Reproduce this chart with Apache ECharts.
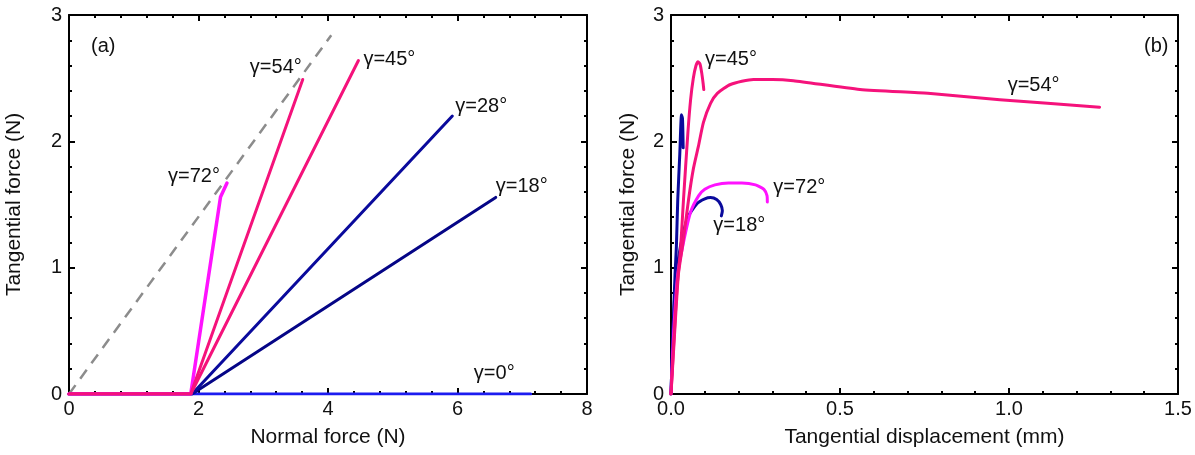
<!DOCTYPE html>
<html>
<head>
<meta charset="utf-8">
<script src="https://cdn.jsdelivr.net/npm/echarts@6/dist/echarts.min.js"></script>
<style>
html,body{margin:0;padding:0;background:#fff;}
#c{width:1195px;height:455px;}
</style>
</head>
<body>
<div id="c"></div>
<script>
// ---- Panel (a): tangential vs normal force ----
const frictionLimit = [[0, 0], [4.05, 2.84]];
const nfG0  = [[0, 0], [1.88, 0], [7.13, 0]];
const nfG18 = [[0, 0], [1.90, 0], [6.59, 1.556]];
const nfG28 = [[0, 0], [1.90, 0], [5.92, 2.20]];
const nfG72 = [[0, 0], [1.88, 0], [2.34, 1.56], [2.37, 1.57], [2.44, 1.67]];
const nfG54 = [[0, 0], [1.88, 0], [3.61, 2.49]];
const nfG45 = [[0, 0], [1.88, 0], [4.47, 2.64]];

// ---- Panel (b): tangential force vs tangential displacement ----
const tdG28 = [[0, 0], [0.006, 0.5], [0.012, 0.95], [0.016, 1.17], [0.020, 1.54], [0.026, 1.9], [0.031, 2.21], [0.034, 2.18], [0.036, 1.95]];
const tdG18 = [[0, 0], [0.006, 0.5], [0.014, 0.9], [0.028, 1.17], [0.050, 1.40], [0.078, 1.51], [0.100, 1.545], [0.117, 1.555], [0.135, 1.54], [0.147, 1.50], [0.152, 1.45], [0.149, 1.41]];
const tdG72 = [[0, 0], [0.008, 0.5], [0.020, 0.95], [0.037, 1.20], [0.058, 1.44], [0.082, 1.57], [0.100, 1.62], [0.130, 1.655], [0.170, 1.67], [0.210, 1.67], [0.250, 1.655], [0.275, 1.62], [0.284, 1.57], [0.285, 1.52]];
const tdG45 = [[0, 0], [0.008, 0.4], [0.018, 0.85], [0.028, 1.14], [0.037, 1.54], [0.050, 2.07], [0.058, 2.33], [0.066, 2.50], [0.074, 2.60], [0.080, 2.63], [0.086, 2.61], [0.091, 2.54], [0.095, 2.46], [0.097, 2.41]];
const tdG54 = [[0, 0], [0.010, 0.45], [0.022, 0.95], [0.034, 1.17], [0.052, 1.54], [0.066, 1.78], [0.081, 1.96], [0.096, 2.15], [0.117, 2.30], [0.137, 2.38], [0.176, 2.45], [0.244, 2.49], [0.300, 2.49], [0.362, 2.48], [0.559, 2.41], [0.760, 2.38], [0.973, 2.33], [1.268, 2.27]];

const xTicksA = [0, 2, 4, 6, 8];
const xTicksB = [0.0, 0.5, 1.0, 1.5];
const yTicks = [0, 1, 2, 3];

const PINK = '#f5127b', MAGENTA = '#ff12ff', NAVY = '#0a0a9c', NAVY2 = '#050586', BLUE = '#1c1cf0';
const FONT = 'Liberation Sans, Arial, sans-serif';
const TXT = '#111';
const LBL = 20;

// A text tag anchored on one point of a series (via markPoint, using the data point itself)
function tag(arr, idx, text, pos, distance, offset) {
  return {
    silent: true, animation: false,
    symbol: 'circle', symbolSize: 0, itemStyle: { color: 'rgba(0,0,0,0)' },
    label: { show: true, formatter: text, position: pos, distance: distance, offset: offset,
             fontSize: LBL, color: TXT, fontFamily: FONT },
    data: [{ coord: arr[idx < 0 ? arr.length + idx : idx] }]
  };
}

function lineSeries(xi, yi, data, color, width, z, smooth, mp) {
  const s = {
    type: 'line', xAxisIndex: xi, yAxisIndex: yi, data: data,
    showSymbol: false, symbol: 'none', smooth: smooth || false, z: z,
    lineStyle: { color: color, width: width, cap: 'round', join: 'round' },
    itemStyle: { color: color },
    emphasis: { disabled: true }, animation: false
  };
  if (mp) s.markPoint = mp;
  return s;
}

const AX = { color: '#000', width: 2 };
function mainX(grid, min, max, interval, name, fmt) {
  return {
    type: 'value', gridIndex: grid, min: min, max: max, interval: interval, position: 'bottom',
    name: name, nameLocation: 'middle', nameGap: 33,
    nameTextStyle: { fontSize: 21, color: TXT, fontFamily: FONT },
    axisLine: { show: true, onZero: false, lineStyle: AX },
    axisTick: { show: true, inside: true, length: 6, lineStyle: AX },
    minorTick: { show: true, splitNumber: 5, length: 3, lineStyle: AX },
    axisLabel: { fontSize: 20, color: TXT, fontFamily: FONT, margin: 5, formatter: fmt },
    splitLine: { show: false }
  };
}
function frameX(grid, min, max, interval) {
  return {
    type: 'value', gridIndex: grid, min: min, max: max, interval: interval, position: 'top',
    axisLine: { show: true, onZero: false, lineStyle: AX },
    axisTick: { show: true, inside: true, length: 6, lineStyle: AX },
    minorTick: { show: true, splitNumber: 5, length: 3, lineStyle: AX },
    axisLabel: { show: false }, splitLine: { show: false }
  };
}
function mainY(grid, gap) {
  return {
    type: 'value', gridIndex: grid, min: yTicks[0], max: yTicks[yTicks.length - 1], interval: 1, position: 'left',
    name: 'Tangential force (N)', nameLocation: 'middle', nameGap: gap, nameRotate: 90,
    nameTextStyle: { fontSize: 21, color: TXT, fontFamily: FONT },
    axisLine: { show: true, onZero: false, lineStyle: AX },
    axisTick: { show: true, inside: true, length: 6, lineStyle: AX },
    minorTick: { show: true, splitNumber: 5, length: 3, lineStyle: AX },
    axisLabel: { fontSize: 20, color: TXT, fontFamily: FONT, margin: 7 },
    splitLine: { show: false }
  };
}
function frameY(grid) {
  return {
    type: 'value', gridIndex: grid, min: 0, max: 3, interval: 1, position: 'right',
    axisLine: { show: true, onZero: false, lineStyle: AX },
    axisTick: { show: true, inside: true, length: 6, lineStyle: AX },
    minorTick: { show: true, splitNumber: 5, length: 3, lineStyle: AX },
    axisLabel: { show: false }, splitLine: { show: false }
  };
}

const chart = echarts.init(document.getElementById('c'), null, { renderer: 'canvas' });
chart.setOption({
  backgroundColor: '#fff',
  animation: false,
  grid: [
    { left: 69, right: 608, top: 15, bottom: 61 },
    { left: 671, right: 17, top: 15, bottom: 61 }
  ],
  xAxis: [
    mainX(0, xTicksA[0], xTicksA[xTicksA.length - 1], 2, 'Normal force (N)'),
    mainX(1, xTicksB[0], xTicksB[xTicksB.length - 1], 0.5, 'Tangential displacement (mm)', v => v.toFixed(1)),
    frameX(0, 0, 8, 2),
    frameX(1, 0, 1.5, 0.5)
  ],
  yAxis: [
    mainY(0, 44),
    mainY(1, 32),
    frameY(0),
    frameY(1)
  ],
  title: [
    { text: '(a)', left: 86, top: 31, textStyle: { fontSize: 20, fontWeight: 'normal', color: TXT, fontFamily: FONT } },
    { text: '(b)', left: 1139, top: 31, textStyle: { fontSize: 20, fontWeight: 'normal', color: TXT, fontFamily: FONT } }
  ],
  series: [
    Object.assign(lineSeries(0, 0, frictionLimit, '#8c8c8c', 2.5, 2), { lineStyle: { color: '#8c8c8c', width: 2.5, type: [11, 8] } }),
    lineSeries(0, 0, nfG0, BLUE, 3, 3, false, tag(nfG0, -1, 'γ=0°', 'left', 16, [0, -21])),
    lineSeries(0, 0, nfG18, NAVY2, 3, 4, false, tag(nfG18, -1, 'γ=18°', 'right', 0, [0, -11])),
    lineSeries(0, 0, nfG28, NAVY, 3, 5, false, tag(nfG28, -1, 'γ=28°', 'right', 3, [0, -10])),
    lineSeries(0, 0, nfG72, MAGENTA, 3.5, 6, false, tag(nfG72, -1, 'γ=72°', 'left', 7, [0, -7])),
    lineSeries(0, 0, nfG54, PINK, 3, 7, false, tag(nfG54, -1, 'γ=54°', 'left', 1, [0, -12])),
    lineSeries(0, 0, nfG45, PINK, 3, 8, false, tag(nfG45, -1, 'γ=45°', 'right', 5, [0, -1])),

    lineSeries(1, 1, tdG28, NAVY, 3, 3, 0.2),
    lineSeries(1, 1, tdG18, NAVY, 3, 4, 0.2, tag(tdG18, -1, 'γ=18°', 'right', 0, [-8, 10])),
    lineSeries(1, 1, tdG72, MAGENTA, 3, 5, 0.2, tag(tdG72, -1, 'γ=72°', 'right', 6, [0, -14])),
    lineSeries(1, 1, tdG45, PINK, 3, 6, 0.2, tag(tdG45, 9, 'γ=45°', 'right', 7, [0, -2])),
    lineSeries(1, 1, tdG54, PINK, 3, 7, 0.2, tag(tdG54, -1, 'γ=54°', 'left', 40, [0, -22]))
  ]
});
</script>
</body>
</html>
